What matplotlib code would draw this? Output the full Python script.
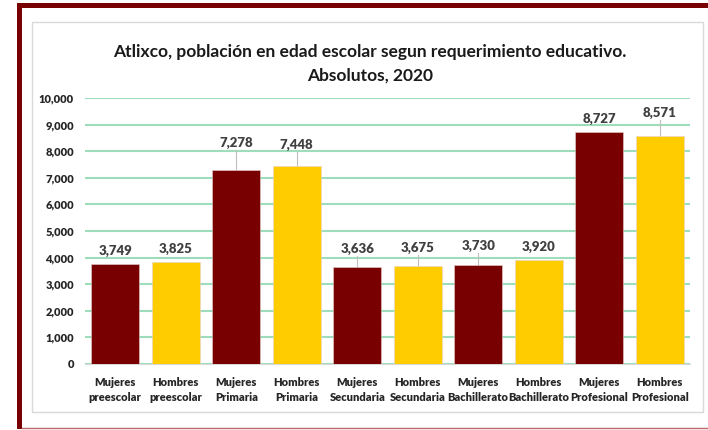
import numpy as np
import matplotlib
matplotlib.use('Agg')
import matplotlib.pyplot as plt
from matplotlib.patches import Rectangle
from matplotlib.lines import Line2D

# data
categories = ['Mujeres\npreescolar', 'Hombres\npreescolar', 'Mujeres\nPrimaria',
              'Hombres\nPrimaria', 'Mujeres\nSecundaria', 'Hombres\nSecundaria',
              'Mujeres\nBachillerato', 'Hombres\nBachillerato', 'Mujeres\nProfesional',
              'Hombres\nProfesional']
values = [3749, 3825, 7278, 7448, 3636, 3675, 3730, 3920, 8727, 8571]
yticks = list(range(0, 10001, 1000))

# where the data labels sit (Excel moved some of them by hand)
label_y = [4250, 4320, 8310, 8230, 4320, 4360, 4440, 4400, 9210, 9440]

red = '#780000'
yellow = '#FFCC00'
colors = [red if i % 2 == 0 else yellow for i in range(len(values))]

plt.rcParams['font.family'] = ['Lato', 'DejaVu Sans']

W, H = 708, 430
fig = plt.figure(figsize=(W / 100, H / 100), dpi=100)
fig.patch.set_facecolor('white')

# slide frame
fig.add_artist(Rectangle((17 / W, 1 - 8 / H), 1, 5 / H, transform=fig.transFigure,
                         color=red, lw=0))
fig.add_artist(Rectangle((17 / W, 1 - 429 / H), 5 / W, 421 / H, transform=fig.transFigure,
                         color=red, lw=0))
fig.add_artist(Line2D([22 / W, 1], [1 - 428 / H] * 2, transform=fig.transFigure,
                      color='#C06868', lw=1))
# chart area box
fig.add_artist(Rectangle((32 / W, 1 - 412 / H), (703 - 32) / W, (412 - 22) / H,
                         transform=fig.transFigure, fill=False, ec='#D9D9D9', lw=1))

ax = fig.add_axes([85 / W, 1 - 364 / H, 605 / W, 266 / H])
x = np.arange(len(values))
ax.bar(x, values, width=0.79, color=colors, edgecolor='#E8D0D0', linewidth=0.4, zorder=3)

for i, v in enumerate(values):
    ly = label_y[i]
    ax.text(i, ly, f'{v:,}', ha='center', va='center', fontsize=9.5,
            fontweight='heavy', color='#404040', zorder=4)
    if ly - 250 - v > 300:
        ax.plot([i, i], [v, ly - 270], color='#BFBFBF', lw=0.8, zorder=2)

ax.set_xlim(-0.5, len(values) - 0.5)
ax.set_ylim(0, 10000)
ax.set_yticks(yticks)
ax.set_yticklabels([f'{t:,}' for t in yticks], fontsize=8, fontweight='heavy', color='#262626')
ax.set_xticks(x)
ax.set_xticklabels(categories, fontsize=8, fontweight='heavy', color='#262626',
                   linespacing=1.5)
ax.tick_params(axis='y', length=0, pad=8)
ax.tick_params(axis='x', length=0, pad=9)
ax.grid(axis='y', color='#9EDDBB', lw=1.5, zorder=0)
for s in ['top', 'right', 'left']:
    ax.spines[s].set_visible(False)
ax.spines['bottom'].set_color('#D9D9D9')
ax.spines['bottom'].set_zorder(1)

fig.text(370 / W, 1 - 52 / H, 'Atlixco, población en edad escolar segun requerimiento educativo.',
         ha='center', va='center', fontsize=12.5, fontweight='bold', color='#1a1a1a')
fig.text(370 / W, 1 - 76 / H, 'Absolutos, 2020', ha='center', va='center',
         fontsize=12.5, fontweight='bold', color='#1a1a1a')

fig.savefig('out.png', dpi=100)
